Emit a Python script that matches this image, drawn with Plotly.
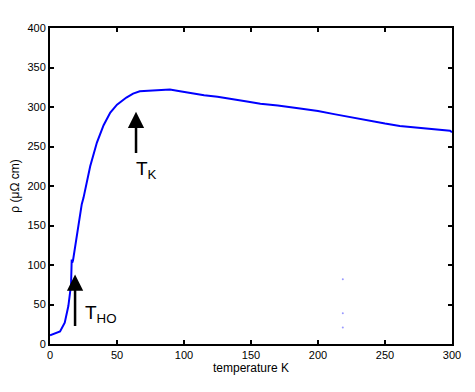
import plotly.graph_objects as go

# resistivity curve
temperature = [0, 3, 7.5, 11, 13.7, 15.7, 16.2, 16.6, 17.2, 20, 23.7, 25, 30, 35, 40, 45,
               50, 57, 62, 67, 75, 82, 89.5, 97, 104, 115, 125, 137, 147, 157, 170,
               186.6, 200, 212, 224, 240, 250, 261, 275, 287, 298.5, 300]
resistivity = [11, 13, 16, 27, 48, 75, 107, 103, 106, 137, 177, 185, 225, 255, 277, 293,
               303, 312, 317, 320, 321, 321, 322, 320, 318, 315, 313, 310, 307, 304, 302,
               298, 295, 291, 287, 282, 279, 276, 274, 272, 270, 268]

# faint stray points near T = 218
stray_t = [218.5, 218.5, 218.5]
stray_r = [82, 39, 21]

# annotation arrows: (tip T, tip rho, tail rho, label, label T, label rho)
arrows = [
    (64.2, 294, 240, "T<sub>K</sub>", 72, 220),
    (18.7, 88, 21, "T<sub>HO</sub>", 38, 38),
]

fig = go.Figure()
fig.add_trace(go.Scatter(
    x=temperature, y=resistivity, mode="lines",
    line=dict(color="#0000ff", width=2),
    showlegend=False,
))
fig.add_trace(go.Scatter(
    x=stray_t, y=stray_r, mode="markers",
    marker=dict(color="#9999ff", size=2),
    showlegend=False,
))

for tip_t, tip_r, tail_r, label, lx, ly in arrows:
    fig.add_annotation(
        x=tip_t, y=tip_r, ax=tip_t, ay=tail_r,
        xref="x", yref="y", axref="x", ayref="y",
        text="", showarrow=True, arrowhead=2, arrowsize=1.3,
        arrowwidth=2.5, arrowcolor="black",
    )
    fig.add_annotation(
        x=lx, y=ly, xref="x", yref="y", text=label, showarrow=False,
        font=dict(size=19, color="black", family="Liberation Sans, Arial"),
    )

axis_style = dict(
    showline=True, linecolor="black", linewidth=2, mirror="ticks",
    ticks="inside", ticklen=4, tickwidth=1.5, tickcolor="black",
    showgrid=False, zeroline=False, automargin=False,
    tickfont=dict(size=11, color="black"),
)

# margins allow for the page's 8px body offset
fig.update_layout(
    width=475, height=392,
    margin=dict(l=42, r=31, t=20, b=56),
    plot_bgcolor="white", paper_bgcolor="white",
    font=dict(family="Liberation Sans, Arial", color="black"),
    xaxis=dict(range=[0, 300], dtick=50,
               title=dict(text="temperature K", font=dict(size=12), standoff=2),
               **axis_style),
    yaxis=dict(range=[0, 400], dtick=50,
               title=dict(text="ρ (μΩ cm)", font=dict(size=12), standoff=6),
               **axis_style),
)

fig.write_html("out.html")
